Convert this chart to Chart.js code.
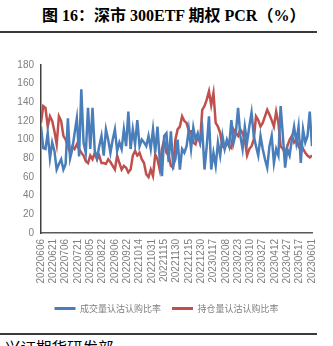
<!DOCTYPE html>
<html>
<head>
<meta charset="utf-8">
<script src="https://cdn.jsdelivr.net/npm/chart.js@4"></script>
<style>
    body { margin: 0; background: #fff; width: 333px; height: 346px; overflow: hidden; position: relative; }
    #title { position: absolute; left: 42px; top: 5px; font: bold 16px "Liberation Serif", "Noto Sans CJK SC"; line-height: 22px; color: #000; white-space: nowrap; }
    .rule { position: absolute; left: 0; width: 317px; height: 2px; background: #3a3a3a; }
    #source { position: absolute; left: 5px; top: 338px; font: 15.5px "Noto Sans CJK SC"; line-height: 18px; color: #000; white-space: nowrap; }
    #wrap { position: absolute; left: 0; top: 40px; width: 333px; height: 285px; }
</style>
</head>
<body>
<div id="title">图 16：深市 300ETF 期权 PCR（%）</div>
<div class="rule" style="top:31px"></div>
<div id="wrap"><canvas id="pcrChart"></canvas></div>
<div class="rule" style="top:333px"></div>
<div id="source">兴证期货研发部</div>
<script>
// 每隔 2 个交易日取一个点（自 20220606 起）
const dayStep = 2;

const tickLabels = ['20220606', '20220621', '20220706', '20220721', '20220805', '20220822',
    '20220906', '20220922', '20221014', '20221031', '20221115', '20221130', '20221215',
    '20221230', '20230117', '20230208', '20230223', '20230310', '20230327', '20230412',
    '20230427', '20230517', '20230601'];

const seriesNames = ['成交量认沽认购比率', '持仓量认沽认购比率'];

const volumeRatio = [
    114, 91, 90, 107, 80, 97, 88, 68, 74, 79,
    68, 74, 123, 80, 90, 107, 123, 82, 154, 97,
    86, 134, 90, 134, 88, 80, 93, 104, 83, 111,
    100, 86, 100, 111, 88, 97, 90, 111, 93, 130,
    90, 111, 95, 121, 93, 100, 97, 93, 104, 90,
    111, 86, 114, 79, 61, 104, 107, 76, 109, 72,
    79, 100, 68, 90, 86, 93, 111, 90, 113, 100,
    107, 97, 111, 68, 93, 125, 68, 86, 72, 97,
    83, 104, 90, 100, 93, 121, 97, 107, 134, 104,
    90, 114, 97, 114, 129, 104, 93, 83, 104, 90,
    79, 70, 93, 104, 75, 90, 83, 136, 104, 70,
    90, 83, 100, 114, 97, 114, 75, 111, 97, 104,
    130, 93
];

const positionRatio = [
    118, 136, 134, 114, 125, 120, 109, 95, 125, 120,
    104, 100, 93, 86, 93, 90, 95, 90, 86, 83,
    77, 75, 83, 79, 86, 79, 83, 75, 75, 74,
    79, 76, 72, 68, 83, 75, 68, 72, 70, 65,
    68, 83, 88, 83, 86, 79, 75, 63, 60, 68,
    61, 84, 79, 68, 90, 100, 86, 83, 72, 70,
    100, 111, 114, 125, 120, 118, 109, 109, 97, 95,
    104, 97, 132, 136, 143, 152, 137, 150, 118, 114,
    107, 93, 91, 97, 93, 91, 111, 107, 104, 111,
    107, 100, 83, 90, 93, 100, 125, 121, 114, 118,
    125, 132, 127, 121, 114, 130, 118, 93, 90, 86,
    93, 100, 104, 97, 100, 93, 97, 90, 86, 83,
    81, 83
];

const toPoints = arr => arr.map((v, k) => ({ x: k * dayStep, y: v }));
const lastDay = (tickLabels.length - 1) * 11;

new Chart(document.getElementById('pcrChart'), {
    type: 'line',
    data: {
        datasets: [{
            label: seriesNames[0],
            data: toPoints(volumeRatio),
            borderColor: '#4a7ebb',
            backgroundColor: '#4a7ebb',
            borderWidth: 2.5,
            pointRadius: 0,
            tension: 0
        }, {
            label: seriesNames[1],
            data: toPoints(positionRatio),
            borderColor: '#c0504d',
            backgroundColor: '#c0504d',
            borderWidth: 2.5,
            pointRadius: 0,
            tension: 0
        }]
    },
    options: {
        responsive: true,
        maintainAspectRatio: false,
        animation: false,
        layout: { padding: { left: 0, right: 0, top: 25, bottom: 2 } },
        plugins: {
            tooltip: { enabled: false },
            legend: {
                position: 'bottom',
                labels: {
                    boxWidth: 21,
                    boxHeight: 3,
                    padding: 11,
                    color: '#7f7f7f',
                    font: { size: 9, family: '"Noto Sans CJK SC"' },
                    generateLabels(chart) {
                        return Chart.defaults.plugins.legend.labels.generateLabels(chart)
                            .map(item => Object.assign(item, { lineWidth: 0 }));
                    }
                }
            }
        },
        scales: {
            x: {
                type: 'linear',
                min: 0,
                max: lastDay,
                grid: { display: false, drawTicks: false },
                border: { display: true, color: '#595959', width: 1.5 },
                afterFit(scale) { scale.height = 60; },
                ticks: {
                    stepSize: 11,
                    autoSkip: false,
                    minRotation: 90,
                    maxRotation: 90,
                    padding: 6,
                    color: '#7f7f7f',
                    font: { size: 10, family: '"Liberation Sans"' },
                    callback: v => tickLabels[Math.round(v / 11)]
                }
            },
            y: {
                min: 0,
                max: 180,
                grid: { display: false, drawTicks: false },
                border: { display: true, color: '#404040', width: 1.5 },
                afterFit(scale) { scale.width = 41; },
                ticks: {
                    stepSize: 20,
                    padding: 7,
                    color: '#7f7f7f',
                    font: { size: 10, family: '"Liberation Sans"' }
                }
            },
            // 右侧留白
            yRight: {
                position: 'right',
                grid: { display: false, drawTicks: false },
                border: { display: false },
                ticks: { display: false },
                afterFit(scale) { scale.width = 21; }
            }
        }
    }
});
</script>
</body>
</html>
